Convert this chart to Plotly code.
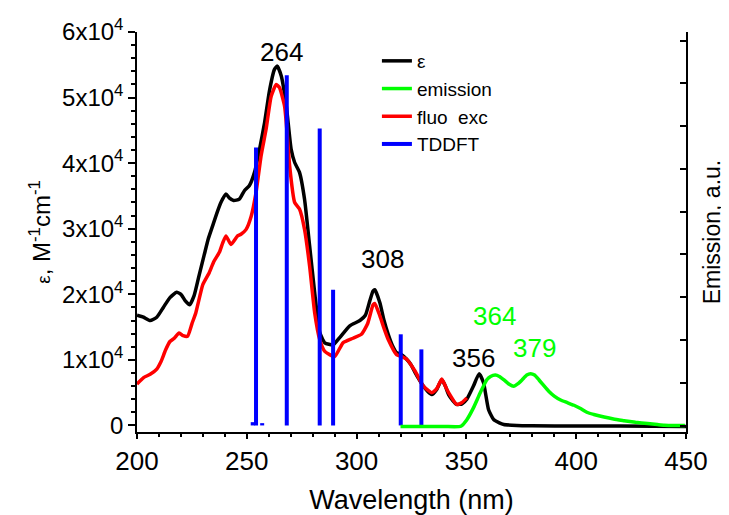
import plotly.graph_objects as go

# ---------------- data ----------------
# Absorption (epsilon, M^-1 cm^-1)
eps_wl = [200, 203, 206, 209, 212, 215, 218, 220, 222, 224, 226, 228, 230.6, 232.5, 234.4, 236.5,
          238.2, 240.5, 242, 244, 246.6, 248.9, 251.2, 253.5, 255.8, 258.1, 260.3, 262.6, 263.9,
          265.7, 268, 270.2, 271.8, 274, 276.3, 278.6, 280.9, 283.2, 285.5, 289.3, 292.3, 296.9,
          301.5, 304, 306, 307.5, 308.3, 310.6, 312.5, 314.4, 316.3, 318.2, 320.5, 322.8, 324.7,
          326.6, 328.5, 330.4, 332.3, 334.2, 336.5, 338.8, 340.4, 341.9, 343.8, 345.6, 348, 350.2,
          353.2, 355.8, 357.8, 360.1, 362.4, 365, 367, 373, 380, 400, 420, 450]
eps_val = [16800, 16500, 16000, 16500, 18000, 19500, 20300, 20000, 19000, 18400, 19800, 22500,
           26000, 28500, 30400, 32500, 34000, 35300, 34700, 34300, 34500, 35800, 36600, 38600,
           42100, 46200, 51000, 54300, 54800, 53300, 48700, 42100, 40100, 38600, 34500, 27400,
           20300, 14200, 12600, 12300, 13400, 15200, 16000, 16800, 19000, 20500, 20700, 18700,
           16000, 13900, 12200, 11100, 10800, 10100, 9300, 8100, 7000, 6000, 5200, 4700, 5500,
           7000, 6000, 4700, 3800, 3200, 3300, 4000, 6000, 7900, 6500, 2400, 900, 400, 150, 0,
           -50, -100, -100, -150]

# Fluorescence excitation (scaled to epsilon axis)
exc_wl = [200, 203, 206, 209, 211, 213, 215, 217, 219.2, 221, 223, 225, 226.8, 230, 232.9, 235,
          237.5, 239, 240.5, 242.8, 245.8, 247.5, 249.7, 252, 254.2, 256.5, 258.8, 261.1, 263.4,
          264.9, 267.2, 268.5, 269.5, 271.8, 274, 276.3, 278.6, 280.9, 283.2, 285.5, 290, 293.8,
          298.4, 302.2, 305, 307.5, 308.3, 310.6, 312.5, 314.4, 318.2, 320.5, 322.8, 326.6, 330.4,
          334.2, 336.5, 338.8, 340.4, 341.9, 345.6, 348, 350.2]
exc_val = [6300, 7300, 7800, 8600, 9800, 11500, 12800, 13300, 14100, 13700, 13600, 15500, 17200,
           21500, 23300, 25000, 26400, 27800, 28900, 27600, 28900, 29200, 29900, 31900, 35500,
           41100, 45200, 50200, 52000, 51500, 48700, 44000, 39600, 34000, 33000, 29900, 24300,
           17200, 13100, 11300, 10500, 12600, 13300, 13900, 15500, 18400, 18600, 16700, 14800,
           13100, 10800, 10500, 10100, 8300, 6000, 5000, 5600, 7100, 6000, 5000, 3200, 3500, 4200]

# Emission (a.u., right axis)
em_wl = [320, 330, 340, 347.5, 350.2, 353.2, 356.3, 359.3, 361, 363.2, 365, 367, 369.5, 371.5,
         373.5, 375.4, 377.5, 379.2, 381, 383, 385, 387.6, 390, 392.9, 396, 399, 402, 405.1, 408,
         412.7, 417, 421.8, 427, 432.5, 437, 440.1, 445, 449.5]
em_val = [-0.02, -0.02, -0.02, -0.015, 0.138, 0.414, 0.766, 1.072, 1.149, 1.180, 1.149, 1.072,
          0.965, 0.919, 0.980, 1.072, 1.180, 1.210, 1.180, 1.072, 0.950, 0.797, 0.689, 0.597,
          0.536, 0.475, 0.398, 0.306, 0.260, 0.199, 0.153, 0.115, 0.077, 0.046, 0.023, 0.008,
          0.0, 0.0]

# TDDFT transitions (scaled to epsilon axis)
td_wl = [252.7, 254.2, 257.0, 268.2, 283.2, 289.3, 320.1, 329.5]
td_val = [500, 42400, 350, 53400, 45300, 20700, 13900, 11600]

# Peak labels
lab_black = ["264", "308", "356"]
lab_black_x = [265.8, 312.0, 353.2]
lab_black_y = [57000, 25400, 10300]
lab_green = ["364", "379"]
lab_green_x = [363.0, 380.8]
lab_green_y = [16700, 11800]

y_ticks = [0, 10000, 20000, 30000, 40000, 50000, 60000]
y_ticktext = ["0", "1x10<sup>4</sup>", "2x10<sup>4</sup>", "3x10<sup>4</sup>",
              "4x10<sup>4</sup>", "5x10<sup>4</sup>", "6x10<sup>4</sup>"]
x_ticks = [200, 250, 300, 350, 400, 450]

# ---------------- figure ----------------
FONT = "Arial, Liberation Sans, sans-serif"
BLACK, RED, GREEN, BLUE = "#000000", "#ff0000", "#00ff00", "#0000ff"

fig = go.Figure()

fig.add_trace(go.Scatter(x=eps_wl, y=eps_val, mode="lines", name="ε",
                         line=dict(color=BLACK, width=3.5, shape="spline", smoothing=0.5),
                         legendrank=1))
fig.add_trace(go.Scatter(x=exc_wl, y=exc_val, mode="lines", name="fluo  exc",
                         line=dict(color=RED, width=3.5, shape="spline", smoothing=0.5),
                         legendrank=3))

# stick spectrum built from the TDDFT arrays
td_x, td_y = [], []
for w, v in zip(td_wl, td_val):
    td_x += [w, w, None]
    td_y += [0, v, None]
fig.add_trace(go.Scatter(x=td_x, y=td_y, mode="lines", name="TDDFT",
                         line=dict(color=BLUE, width=4), legendrank=4))

fig.add_trace(go.Scatter(x=em_wl, y=em_val, mode="lines", name="emission", yaxis="y2",
                         line=dict(color=GREEN, width=3.5, shape="spline", smoothing=0.5),
                         legendrank=2))

for t, x, y in zip(lab_black, lab_black_x, lab_black_y):
    fig.add_annotation(x=x, y=y, xref="x", yref="y", text=t, showarrow=False,
                       font=dict(family=FONT, size=26, color=BLACK))
for t, x, y in zip(lab_green, lab_green_x, lab_green_y):
    fig.add_annotation(x=x, y=y, xref="x", yref="y", text=t, showarrow=False,
                       font=dict(family=FONT, size=26, color=GREEN))

# The page body keeps an 8 px default margin, so the figure is 8 px smaller
# than the window and the plot margins are shifted accordingly.
fig.update_layout(
    width=721, height=507,
    margin=dict(l=129, r=43, t=24, b=83),
    paper_bgcolor="white", plot_bgcolor="white",
    font=dict(family=FONT, size=22, color=BLACK),
    showlegend=True,
    legend=dict(x=0.437, y=0.975, xanchor="left", yanchor="top",
                bgcolor="rgba(0,0,0,0)", font=dict(family=FONT, size=19, color=BLACK),
                tracegroupgap=0),
    xaxis=dict(range=[200, 450], tickvals=x_ticks, showgrid=False, zeroline=False,
               automargin=False,
               showline=True, linecolor=BLACK, linewidth=1.5,
               ticks="outside", ticklen=5, tickwidth=1.5, tickcolor=BLACK,
               minor=dict(dtick=10, ticks="outside", ticklen=3, tickwidth=1.5, tickcolor=BLACK),
               tickfont=dict(family=FONT, size=26, color=BLACK),
               title=dict(text="Wavelength (nm)", font=dict(family=FONT, size=27, color=BLACK),
                          standoff=17)),
    yaxis=dict(range=[-1000, 60000], tickvals=y_ticks, ticktext=y_ticktext,
               showgrid=False, zeroline=False, automargin=False,
               showline=True, linecolor=BLACK, linewidth=1.5,
               ticks="outside", ticklen=7, tickwidth=1.5, tickcolor=BLACK,
               minor=dict(dtick=2000, ticks="outside", ticklen=4, tickwidth=1.5, tickcolor=BLACK),
               tickfont=dict(family=FONT, size=24, color=BLACK),
               title=dict(text="<span style='font-size:19px'>ε</span>, M<sup>-1</sup>cm<sup>-1</sup>",
                          font=dict(family=FONT, size=24, color=BLACK), standoff=5)),
    yaxis2=dict(overlaying="y", side="right", range=[-0.15, 9.2], dtick=1,
                showticklabels=False, showgrid=False, zeroline=False, automargin=False,
                showline=True, linecolor=BLACK, linewidth=1.5,
                ticks="inside", ticklen=6, tickwidth=1.5, tickcolor=BLACK,
                title=dict(text="Emission, a.u.", font=dict(family=FONT, size=23, color=BLACK),
                           standoff=17)),
)

for tr in fig.data:
    tr.legendgroup = tr.name

fig.write_html("out.html")
